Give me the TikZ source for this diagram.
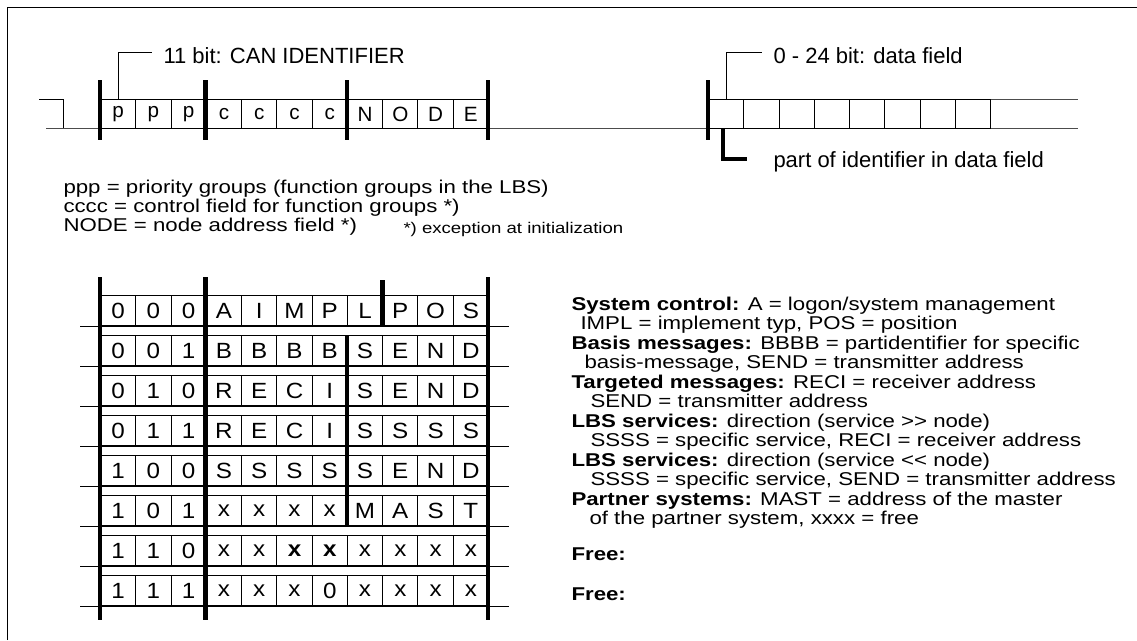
\documentclass[tikz,border=0pt]{standalone}
\usepackage{fontspec}
\setmainfont{Liberation Sans}
\newfontfamily\widesans[FakeStretch=1.2]{Liberation Sans}
\newfontfamily\cellsans[FakeStretch=1.1]{Liberation Sans}
\begin{document}
\begin{tikzpicture}[x=0.75pt, y=-0.75pt, line width=0.75pt]
\tikzstyle{bit}=[draw, inner sep=0pt, minimum width=26.45pt, minimum height=21.75pt,
                 anchor=north west, font=\fontsize{15.5}{18}\selectfont]
\tikzstyle{cell}=[bit, minimum height=22.5pt, font=\cellsans\fontsize{16.5}{18}\selectfont]
\tikzstyle{bar}=[line width=3.6pt]
\tikzstyle{bus}=[draw=black!70]
\tikzstyle{label}=[inner sep=0pt, anchor=base west, font=\fontsize{16.5}{19}\selectfont]
\tikzstyle{legend}=[inner sep=0pt, anchor=base west, font=\widesans\fontsize{13.9}{14}\selectfont]
\tikzstyle{note}=[legend, font=\widesans\fontsize{11.6}{12}\selectfont]
\useasboundingbox (0,0) rectangle (1137,640);
\draw (7,640) |- (1137,7);

% CAN frame: identifier and data field
\coordinate (busstart) at (46,128);
\coordinate (busend) at (1078,128);
\draw[bus] (busstart) -- (busend);
\draw (39,99) -| (63,128);
\foreach \txt [count=\i] in {p,p,p,c,c,c,c,N,O,D,E}
  \node[bit] (b\i) at ({100+(\i-1)*35.27},99) {\txt};
\foreach \i in {1,...,8}
  \node[bit] (d\i) at ({708+(\i-1)*35.25},99) {};
\draw[bus] (d8.north east) -- (1078,99);
\foreach \x in {100,205.8,346.9,488,708}
  \draw[bar] (\x,80) -- (\x,140);

\node[label] (canid) at (163,63) {11 bit: CAN IDENTIFIER};
\draw (b1.north) |- ([xshift=-8pt,yshift=2pt]canid.west);
\node[label] (datafield) at (773,63) {0 - 24 bit: data field};
\draw (d1.north) |- ([xshift=-8pt,yshift=2pt]datafield.west);
\node[label] (partid) at (773,167) {part of identifier in data field};
\draw[line width=3pt] ([xshift=-2pt]d1.south) -- ++(0,30) -- ++(24,0);

% legend
\node[legend] (ppp) at (63,193) {ppp = priority groups (function groups in the LBS)};
\node[legend] (cccc) at (63,212) {cccc = control field for function groups *)};
\node[legend] (nodeaddr) at (63,231) {NODE = node address field *)};
\node[note] (except) at (403,233) {*) exception at initialization};

% identifier table
\foreach \row [count=\r from 0] in {{0,0,0,A,I,M,P,L,P,O,S},
                                    {0,0,1,B,B,B,B,S,E,N,D},
                                    {0,1,0,R,E,C,I,S,E,N,D},
                                    {0,1,1,R,E,C,I,S,S,S,S},
                                    {1,0,0,S,S,S,S,S,E,N,D},
                                    {1,0,1,x,x,x,x,M,A,S,T},
                                    {1,1,0,x,x,{\textbf{x}},{\textbf{x}},x,x,x,x},
                                    {1,1,1,x,x,x,0,x,x,x,x}}
{
  \foreach \c [count=\i] in \row
    \node[cell] (t\r-\i) at ({100+(\i-1)*35.27},{295+40*\r}) {\c};
  \draw ([xshift=-15pt]t\r-1.south west) -- ([xshift=15pt]t\r-11.south east);
}
\foreach \x in {100,205.8,488}
  \draw[bar] (\x,277) -- (\x,620);
\draw[bar] (382.2,280) -- (382.2,325);
\draw[bar] (346.9,335) -- (346.9,525);

% meaning of the rows
\node[legend] (sysctl) at (571,310) {\textbf{System control:} A = logon/system management};
\node[legend] (impl) at (580,329.5) {IMPL = implement typ, POS = position};
\node[legend] (basis) at (571,349) {\textbf{Basis messages:} BBBB = partidentifier for specific};
\node[legend] (basis2) at (584,368.5) {basis-message, SEND = transmitter address};
\node[legend] (target) at (571,388) {\textbf{Targeted messages:} RECI = receiver address};
\node[legend] (target2) at (590,407.5) {SEND = transmitter address};
\node[legend] (lbsin) at (571,427) {\textbf{LBS services:} direction (service >> node)};
\node[legend] (lbsin2) at (590,446.5) {SSSS = specific service, RECI = receiver address};
\node[legend] (lbsout) at (571,466) {\textbf{LBS services:} direction (service << node)};
\node[legend] (lbsout2) at (590,485.5) {SSSS = specific service, SEND = transmitter address};
\node[legend] (partner) at (571,505) {\textbf{Partner systems:} MAST = address of the master};
\node[legend] (partner2) at (589,524.5) {of the partner system, xxxx = free};
\node[legend] (free1) at (571,560) {\textbf{Free:}};
\node[legend] (free2) at (571,600) {\textbf{Free:}};
\end{tikzpicture}
\end{document}
